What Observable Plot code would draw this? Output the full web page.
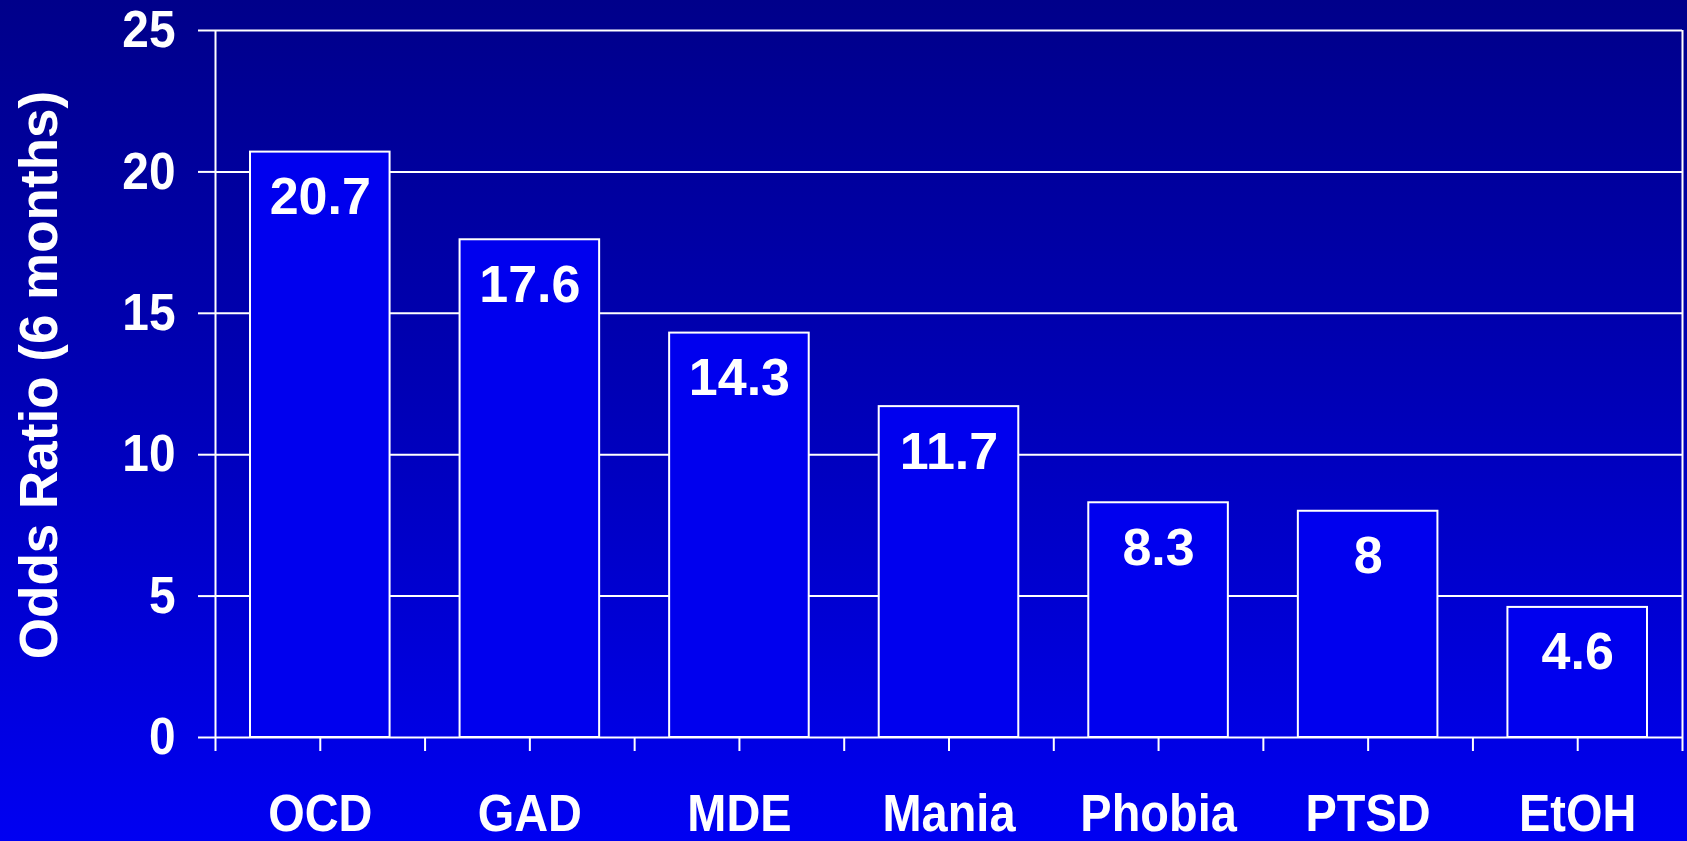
<!DOCTYPE html>
<html>
<head>
<meta charset="utf-8">
<script src="https://cdn.jsdelivr.net/npm/d3@7"></script>
<script src="https://cdn.jsdelivr.net/npm/@observablehq/plot@0.6"></script>
<style>
  html, body { margin: 0; padding: 0; background: #0000c0; }
  #chart svg { display: block; }
</style>
</head>
<body>
<div id="chart"></div>
<script>
// Odds ratios (6-month prevalence) by diagnosis
const categories = ["OCD", "GAD", "MDE", "Mania", "Phobia", "PTSD", "EtOH"];
const oddsRatios = [20.7, 17.6, 14.3, 11.7, 8.3, 8, 4.6];
const yTicks = [0, 5, 10, 15, 20, 25];
const yLabel = "Odds Ratio (6 months)";

const rows = categories.map((category, i) => ({category, index: i, value: oddsRatios[i]}));

// x runs over category slots: slot i spans [i, i+1]; ticks at slot edges and centres
const n = categories.length;
const xTicks = d3.range(0, n + 0.5, 0.5);
const xTickFormat = (d) => Number.isInteger(d) ? "" : categories[d - 0.5];

const font = "'Liberation Sans', Arial, sans-serif";
const labelSize = 52;

const chart = Plot.plot({
  width: 1687,
  height: 841,
  marginLeft: 215,
  marginRight: 5,
  marginTop: 30,
  marginBottom: 104,
  style: {
    background: "linear-gradient(to bottom, #00008a 0%, #0000b4 45%, #0000f2 100%)",
    color: "white",
    fontFamily: font,
    fontWeight: "bold",
    fontSize: `${labelSize}px`
  },
  x: {domain: [0, n]},
  y: {domain: [0, 25]},
  marks: [
    Plot.gridY(yTicks.filter((d) => d > 0), {stroke: "white", strokeOpacity: 1, strokeWidth: 2}),
    Plot.rect(rows, {
      x1: "index",
      x2: (d) => d.index + 1,
      y1: 0,
      y2: "value",
      insetLeft: 35,
      insetRight: 35,
      fill: "#0000ee",
      stroke: "white",
      strokeWidth: 2
    }),
    Plot.text(rows, {
      x: (d) => d.index + 0.5,
      y: "value",
      text: (d) => String(d.value),
      lineAnchor: "top",
      dy: 25,
      fill: "white",
      fontSize: labelSize,
      fontWeight: "bold",
      ariaLabel: "value label"
    }),
    Plot.ruleX([0, n], {stroke: "white", strokeWidth: 2}),
    Plot.ruleY([0], {stroke: "white", strokeWidth: 2}),
    Plot.axisY(yTicks, {
      tickSize: 17,
      tickPadding: 23,
      stroke: "white",
      strokeWidth: 2,
      fill: "white",
      fontSize: labelSize,
      fontWeight: "bold",
      label: null
    }),
    Plot.axisX(xTicks, {
      tickSize: 14,
      tickPadding: 43,
      tickFormat: xTickFormat,
      stroke: "white",
      strokeWidth: 2,
      fill: "white",
      fontSize: 51,
      fontWeight: "bold",
      label: null
    }),
    Plot.text([yLabel], {
      text: (d) => d,
      frameAnchor: "left",
      textAnchor: "middle",
      dx: -175,
      dy: -9,
      rotate: -90,
      fill: "white",
      fontSize: 53,
      fontWeight: "bold",
      ariaLabel: "y label"
    })
  ]
});

// Tick and value labels use slightly narrowed glyphs, squeezed about each text's anchor
const narrow = 0.92;
chart.querySelectorAll(
  'g[aria-label="x-axis tick label"] text, g[aria-label="y-axis tick label"] text, g[aria-label="value label"] text'
).forEach((t) => {
  const x = +(t.getAttribute("x") || 0);
  const base = t.getAttribute("transform") || "";
  t.setAttribute("transform", `${base} translate(${x},0) scale(${narrow},1) translate(${-x},0)`.trim());
});

document.getElementById("chart").append(chart);
</script>
</body>
</html>
